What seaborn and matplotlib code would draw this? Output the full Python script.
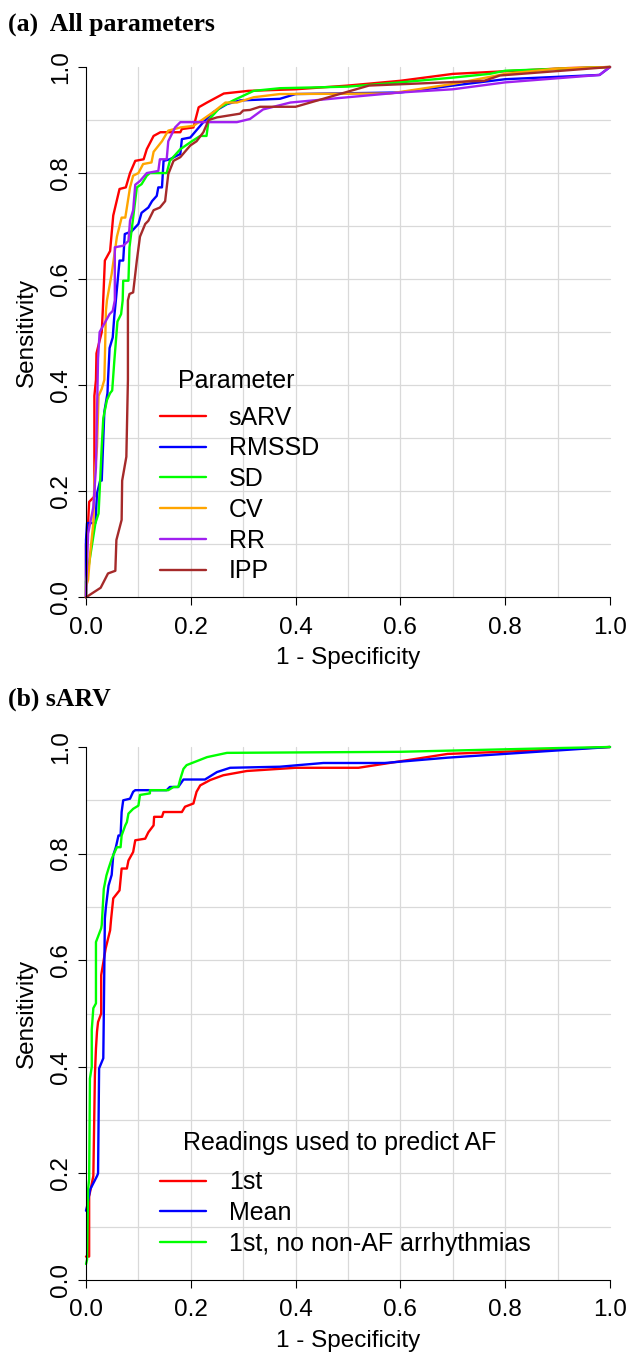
import matplotlib

matplotlib.use("Agg")
import matplotlib.pyplot as plt
import numpy as np
import pandas as pd
import seaborn as sns

# ROC curves, panel (a): all parameters
SARV_FPR = [0, 0, 0.004, 0.006, 0.016, 0.016, 0.019, 0.02, 0.03, 0.032, 0.036, 0.046, 0.052,
            0.064, 0.076, 0.084, 0.094, 0.11, 0.116, 0.129, 0.142, 0.18, 0.183, 0.205, 0.215,
            0.231, 0.263, 0.31, 0.4, 0.5, 0.6, 0.7, 0.8, 0.92, 1.0]
SARV_TPR = [0, 0.10, 0.14, 0.18, 0.19, 0.38, 0.41, 0.46, 0.5, 0.54, 0.635, 0.653, 0.72,
            0.77, 0.773, 0.80, 0.823, 0.826, 0.845, 0.87, 0.877, 0.877, 0.883, 0.886, 0.924,
            0.933, 0.95, 0.955, 0.958, 0.965, 0.974, 0.987, 0.992, 0.998, 1.0]

RMSSD_FPR = [0, 0, 0.002, 0.018, 0.021, 0.027, 0.03, 0.035, 0.041, 0.042, 0.045, 0.051, 0.054,
             0.057, 0.064, 0.071, 0.074, 0.087, 0.1, 0.106, 0.119, 0.126, 0.135, 0.138, 0.145,
             0.148, 0.16, 0.18, 0.183, 0.199, 0.224, 0.243, 0.269, 0.294, 0.37, 0.4, 0.6, 0.7,
             0.8, 0.98, 1.0]
RMSSD_TPR = [0, 0.108, 0.14, 0.14, 0.196, 0.22, 0.22, 0.35, 0.385, 0.41, 0.47, 0.49, 0.53,
             0.56, 0.635, 0.635, 0.685, 0.69, 0.704, 0.725, 0.735, 0.747, 0.757, 0.773, 0.773,
             0.823, 0.826, 0.836, 0.864, 0.867, 0.896, 0.915, 0.93, 0.937, 0.94, 0.949, 0.952,
             0.965, 0.977, 0.985, 1.0]

SD_FPR = [0, 0, 0.005, 0.018, 0.024, 0.027, 0.03, 0.033, 0.04, 0.046, 0.05, 0.054, 0.06, 0.067,
          0.07, 0.071, 0.081, 0.083, 0.09, 0.097, 0.106, 0.116, 0.122, 0.154, 0.16, 0.18, 0.202,
          0.218, 0.23, 0.234, 0.256, 0.281, 0.32, 0.37, 0.5, 0.6, 0.7, 0.77, 0.8, 1.0]
SD_TPR = [0, 0.03, 0.058, 0.14, 0.158, 0.22, 0.284, 0.338, 0.372, 0.385, 0.39, 0.445, 0.52, 0.534,
          0.56, 0.597, 0.597, 0.66, 0.716, 0.773, 0.779, 0.795, 0.8, 0.8, 0.823, 0.845, 0.86,
          0.87, 0.87, 0.9, 0.924, 0.937, 0.955, 0.96, 0.963, 0.971, 0.98, 0.987, 0.993, 1.0]

CV_FPR = [0, 0, 0.004, 0.008, 0.014, 0.016, 0.021, 0.024, 0.03, 0.035, 0.036, 0.038, 0.04,
          0.049, 0.059, 0.068, 0.075, 0.084, 0.09, 0.1, 0.109, 0.125, 0.129, 0.145, 0.157, 0.18,
          0.205, 0.243, 0.266, 0.288, 0.32, 0.37, 0.58, 0.7, 0.8, 0.9, 1.0]
CV_TPR = [0, 0.02, 0.033, 0.083, 0.14, 0.22, 0.284, 0.38, 0.393, 0.41, 0.45, 0.54, 0.56,
          0.61, 0.68, 0.716, 0.716, 0.773, 0.795, 0.8, 0.817, 0.82, 0.84, 0.86, 0.88, 0.886,
          0.889, 0.915, 0.933, 0.933, 0.943, 0.949, 0.95, 0.968, 0.987, 0.997, 1.0]

RR_FPR = [0, 0, 0.004, 0.014, 0.019, 0.023, 0.026, 0.045, 0.051, 0.055, 0.055, 0.071, 0.081,
          0.084, 0.09, 0.094, 0.103, 0.116, 0.138, 0.141, 0.154, 0.157, 0.17, 0.18, 0.288,
          0.313, 0.338, 0.39, 0.5, 0.6, 0.7, 0.8, 0.98, 1.0]
RR_TPR = [0, 0.005, 0.12, 0.17, 0.245, 0.45, 0.5, 0.534, 0.54, 0.56, 0.66, 0.663, 0.672,
          0.71, 0.73, 0.778, 0.785, 0.8, 0.804, 0.826, 0.826, 0.86, 0.886, 0.896, 0.896,
          0.902, 0.92, 0.933, 0.943, 0.952, 0.958, 0.971, 0.985, 1.0]

IPP_FPR = [0, 0.028, 0.042, 0.056, 0.058, 0.068, 0.069, 0.077, 0.08, 0.08, 0.083, 0.09, 0.097,
           0.103, 0.113, 0.119, 0.129, 0.141, 0.151, 0.157, 0.167, 0.18, 0.199, 0.211, 0.224,
           0.234, 0.25, 0.294, 0.3, 0.313, 0.332, 0.4, 0.54, 0.76, 0.79, 1.0]
IPP_TPR = [0, 0.018, 0.045, 0.05, 0.108, 0.146, 0.22, 0.265, 0.41, 0.56, 0.572, 0.575, 0.635,
           0.68, 0.704, 0.71, 0.73, 0.735, 0.747, 0.798, 0.823, 0.83, 0.852, 0.86, 0.877,
           0.9, 0.905, 0.912, 0.918, 0.919, 0.925, 0.925, 0.965, 0.974, 0.984, 1.0]

# panel (b): sARV, different readings
FIRST_FPR = [0, 0.006, 0.006, 0.014, 0.017, 0.019, 0.021, 0.023, 0.029, 0.029, 0.0375, 0.046,
             0.048, 0.052, 0.064, 0.068, 0.078, 0.081, 0.09, 0.094, 0.113, 0.119, 0.129, 0.13,
             0.145, 0.148, 0.183, 0.189, 0.205, 0.211, 0.218, 0.237, 0.262, 0.307, 0.4, 0.52,
             0.69, 0.82, 1.0]
FIRST_TPR = [0.044, 0.044, 0.157, 0.195, 0.384, 0.434, 0.466, 0.484, 0.5, 0.572, 0.622, 0.656,
             0.678, 0.716, 0.731, 0.772, 0.772, 0.787, 0.803, 0.825, 0.828, 0.84, 0.853, 0.869,
             0.869, 0.878, 0.878, 0.888, 0.894, 0.916, 0.928, 0.938, 0.947, 0.955, 0.961, 0.961,
             0.987, 0.992, 1.0]

MEAN_FPR = [0, 0.002, 0.008, 0.021, 0.023, 0.025, 0.033, 0.034, 0.036, 0.038, 0.043, 0.049,
            0.052, 0.057, 0.062, 0.066, 0.068, 0.071, 0.084, 0.09, 0.094, 0.154, 0.16, 0.176,
            0.186, 0.227, 0.25, 0.275, 0.37, 0.453, 0.57, 0.69, 1.0]
MEAN_TPR = [0.13, 0.138, 0.17, 0.195, 0.2, 0.397, 0.416, 0.5, 0.678, 0.7, 0.74, 0.76,
            0.797, 0.812, 0.834, 0.834, 0.878, 0.9, 0.903, 0.916, 0.919, 0.919, 0.925, 0.925,
            0.939, 0.939, 0.953, 0.961, 0.963, 0.97, 0.97, 0.98, 1.0]

NOARR_FPR = [0, 0.002, 0.004, 0.006, 0.0075, 0.011, 0.011, 0.014, 0.019, 0.019, 0.029, 0.03,
             0.034, 0.039, 0.043, 0.049, 0.052, 0.059, 0.066, 0.068, 0.075, 0.078, 0.081, 0.09,
             0.1, 0.103, 0.122, 0.122, 0.157, 0.167, 0.176, 0.18, 0.186, 0.192, 0.231, 0.269,
             0.6, 0.9, 1.0]
NOARR_TPR = [0.03, 0.038, 0.17, 0.189, 0.378, 0.4, 0.47, 0.51, 0.519, 0.634, 0.66, 0.666,
             0.734, 0.759, 0.772, 0.79, 0.797, 0.812, 0.812, 0.834, 0.853, 0.859, 0.875, 0.884,
             0.89, 0.91, 0.913, 0.919, 0.919, 0.925, 0.925, 0.94, 0.959, 0.966, 0.981, 0.989,
             0.991, 0.998, 1.0]

PARAMS = ["sARV", "RMSSD", "SD", "CV", "RR", "IPP"]
READINGS = ["1st", "Mean", "1st, no non-AF arrhythmias"]
PARAM_COLORS = ["#FF0000", "#0000FF", "#00FF00", "#FFA500", "#A020F0", "#A52A2A"]
READING_COLORS = ["#FF0000", "#0000FF", "#00FF00"]


def long_table(names, fprs, tprs):
    parts = []
    for name, f, t in zip(names, fprs, tprs):
        parts.append(pd.DataFrame({"fpr": f, "tpr": t, "series": name}))
    return pd.concat(parts, ignore_index=True)


df_a = long_table(PARAMS,
                  [SARV_FPR, RMSSD_FPR, SD_FPR, CV_FPR, RR_FPR, IPP_FPR],
                  [SARV_TPR, RMSSD_TPR, SD_TPR, CV_TPR, RR_TPR, IPP_TPR])
df_b = long_table(READINGS,
                  [FIRST_FPR, MEAN_FPR, NOARR_FPR],
                  [FIRST_TPR, MEAN_TPR, NOARR_TPR])

sns.set_theme(style="ticks")
plt.rcParams["font.family"] = ["Liberation Sans", "DejaVu Sans"]

FS = 17.5
LEG_FS = 18
W, H = 630, 1353
fig = plt.figure(figsize=(W / 100, H / 100), dpi=100)
ax_a = fig.add_axes([86 / W, 1 - 597.3 / H, 524 / W, 530.3 / H])
ax_b = fig.add_axes([86 / W, 1 - 1280 / H, 524 / W, 533 / H])


def draw_panel(ax, df, order, colors, legend_title, title_xy, legend_mid):
    for v in np.arange(1, 10) / 10:
        ax.axvline(v, color="#d9d9d9", lw=0.9, zorder=0)
        ax.axhline(v, color="#d9d9d9", lw=0.9, zorder=0)
    sns.lineplot(data=df, x="fpr", y="tpr", hue="series", hue_order=order,
                 palette=dict(zip(order, colors)), sort=False, estimator=None,
                 lw=1.7, ax=ax)
    for line in ax.lines:
        line.set_clip_on(False)
    ax.set_xlim(0, 1)
    ax.set_ylim(0, 1)
    ticks = np.arange(0, 1.01, 0.2)
    labels = [f"{t:.1f}" for t in ticks]
    ax.set_xticks(ticks, labels)
    ax.set_yticks(ticks, labels)
    sns.despine(ax=ax)
    for side in ["left", "bottom"]:
        ax.spines[side].set_color("black")
        ax.spines[side].set_linewidth(0.8)
    ax.tick_params(length=6, width=0.8, labelsize=FS, color="black", labelcolor="black")
    ax.tick_params(axis="x", pad=8)
    ax.tick_params(axis="y", pad=4)
    for lab in ax.get_yticklabels():
        lab.set_rotation(90)
        lab.set_va("center")
    ax.set_xlabel("1 - Specificity", fontsize=FS, labelpad=6, color="black")
    ax.set_ylabel("Sensitivity", fontsize=FS, labelpad=9, color="black")
    # legend title drawn on its own so it sits a little apart from the entries, as in R
    ax.text(title_xy[0], title_xy[1], legend_title, transform=ax.transAxes,
            fontsize=LEG_FS, ha="left", va="center", color="black")
    sns.move_legend(ax, "center left", bbox_to_anchor=(0.141, legend_mid),
                    title=None, frameon=False, fontsize=LEG_FS,
                    handlelength=1.85, handletextpad=0.9, labelspacing=0.27,
                    borderpad=0, borderaxespad=0)
    for t in ax.get_legend().get_texts():
        t.set_color("black")


draw_panel(ax_a, df_a, PARAMS, PARAM_COLORS, "Parameter", (0.1756, 0.408), 0.194)
draw_panel(ax_b, df_b, READINGS, READING_COLORS, "Readings used to predict AF",
           (0.185, 0.257), 0.1257)

serif = dict(fontfamily="Liberation Serif", fontweight="bold", va="baseline", color="black")
fig.text(8 / W, 1 - 31 / H, "(a)  All parameters", fontsize=18.5, **serif)
fig.text(8 / W, 1 - 706 / H, "(b) sARV", fontsize=18.5, **serif)

fig.savefig("out.png", dpi=100)
